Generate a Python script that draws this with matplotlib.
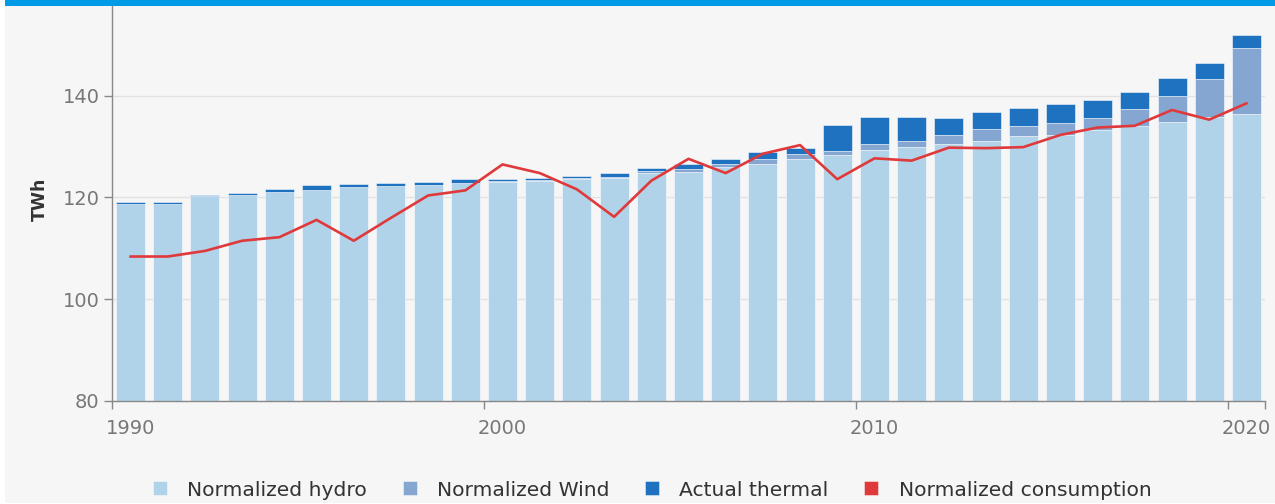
import matplotlib
matplotlib.use("Agg")
import matplotlib.pyplot as plt
from matplotlib.lines import Line2D
from matplotlib.patches import Rectangle
import numpy as np

years = list(range(1990, 2021))
hydro = [118.7, 118.7, 120.2, 120.4, 121.1, 121.5, 122.1, 122.3, 122.5, 122.8,
         123.1, 123.3, 123.7, 123.8, 124.8, 125.1, 125.9, 126.6, 127.6, 128.3,
         129.3, 130.0, 130.5, 131.2, 132.0, 132.3, 133.2, 134.0, 134.9, 135.8, 136.4]
wind = [0.0, 0.0, 0.0, 0.0, 0.0, 0.0, 0.0, 0.0, 0.0, 0.1,
        0.1, 0.1, 0.1, 0.2, 0.4, 0.6, 0.7, 0.9, 1.0, 0.9,
        1.2, 1.2, 1.7, 2.2, 2.1, 2.3, 2.4, 3.3, 5.1, 7.4, 12.9]
thermal = [0.4, 0.4, 0.2, 0.5, 0.5, 0.9, 0.6, 0.6, 0.6, 0.7,
           0.4, 0.5, 0.4, 0.9, 0.6, 0.9, 1.0, 1.5, 1.15, 5.0,
           5.4, 4.7, 3.4, 3.5, 3.5, 3.8, 3.5, 3.5, 3.4, 3.2, 2.7]
consumption = [108.4, 108.4, 109.5, 111.5, 112.2, 115.6, 111.5, 116.0, 120.4, 121.4,
               126.5, 124.8, 121.6, 116.2, 123.3, 127.6, 124.8, 128.6, 130.3, 123.6,
               127.7, 127.25, 129.8, 129.7, 129.9, 132.3, 133.75, 134.1, 137.2, 135.3, 138.5]
series_names = ["Normalized hydro", "Normalized Wind", "Actual thermal", "Normalized consumption"]
tick_years = [1990, 2000, 2010, 2020]

c_hydro = "#b1d3e9"
c_wind = "#86a6d2"
c_thermal = "#1f72bf"
c_cons = "#e0393b"
bg = "#f6f6f6"

W, H = 1275, 504
fig = plt.figure(figsize=(W / 100, H / 100), dpi=100)
fig.patch.set_facecolor("white")
fig.patches.append(Rectangle((5 / W, 1 - 503 / H), 1 - 5 / W, 503 / H,
                             transform=fig.transFigure, facecolor=bg, edgecolor="none", zorder=-10))
fig.patches.append(Rectangle((5 / W, 1 - 5.7 / H), 1 - 5 / W, 5.7 / H,
                             transform=fig.transFigure, facecolor="#009be6", edgecolor="none", zorder=-5))

ax = fig.add_axes([112 / W, 1 - 401 / H, (1265 - 112) / W, (401 - 5.7) / H])
ax.set_facecolor(bg)
ax.patch.set_alpha(0)

x = np.array(years) + 0.5
hyd = np.array(hydro)
wnd = np.array(wind)
thr = np.array(thermal)
bw = 0.78
ec = (1, 1, 1, 0.6)
ax.bar(x, hyd - 78, bottom=78, width=bw, color=c_hydro, edgecolor=ec, linewidth=0.6, zorder=2)
ax.bar(x, wnd, bottom=hyd, width=bw, color=c_wind, edgecolor=ec, linewidth=0.6, zorder=2)
ax.bar(x, thr, bottom=hyd + wnd, width=bw, color=c_thermal, edgecolor=ec, linewidth=0.6, zorder=2)
ax.plot(x, consumption, color=c_cons, lw=1.9, zorder=3, solid_joinstyle="round")

ax.set_xlim(1990, 2021)
ax.set_ylim(80, 157.7)
ax.set_yticks([80, 100, 120, 140])
ax.yaxis.grid(True, color="#e2e2e2", lw=1, zorder=0)
ax.set_axisbelow(True)
ax.tick_params(axis="y", colors="#888888", labelcolor="#777777", labelsize=14, length=6, width=1, pad=3)

ax.set_xticks(tick_years + [2021])
ax.set_xticklabels([])
ax.set_xticks([t + 0.5 for t in tick_years], minor=True)
ax.set_xticklabels([str(t) for t in tick_years], minor=True)
ax.tick_params(axis="x", which="major", colors="#888888", length=6, width=1)
ax.tick_params(axis="x", which="minor", length=0, labelcolor="#777777", labelsize=14, pad=13)

for s in ["top", "right"]:
    ax.spines[s].set_visible(False)
for s in ["left", "bottom"]:
    ax.spines[s].set_color("#888888")
    ax.spines[s].set_linewidth(1)

fig.text(40 / W, 1 - 199 / H, "TWh", rotation=90, ha="center", va="center",
         fontsize=12.5, fontweight="bold", color="#333333")

handles = [Line2D([], [], marker="s", linestyle="none", markersize=9.5, color=c,
                  markeredgecolor=(1, 1, 1, 0.6), markeredgewidth=0.5)
           for c in [c_hydro, c_wind, c_thermal, c_cons]]
leg = fig.legend(handles, series_names, loc="center", bbox_to_anchor=(652 / W, 1 - 490 / H),
                 ncol=4, frameon=False, fontsize=14.6, handlelength=0.7, handletextpad=1.0,
                 columnspacing=1.75, labelcolor="#333333")

fig.savefig("out.png", dpi=100, facecolor="white")
